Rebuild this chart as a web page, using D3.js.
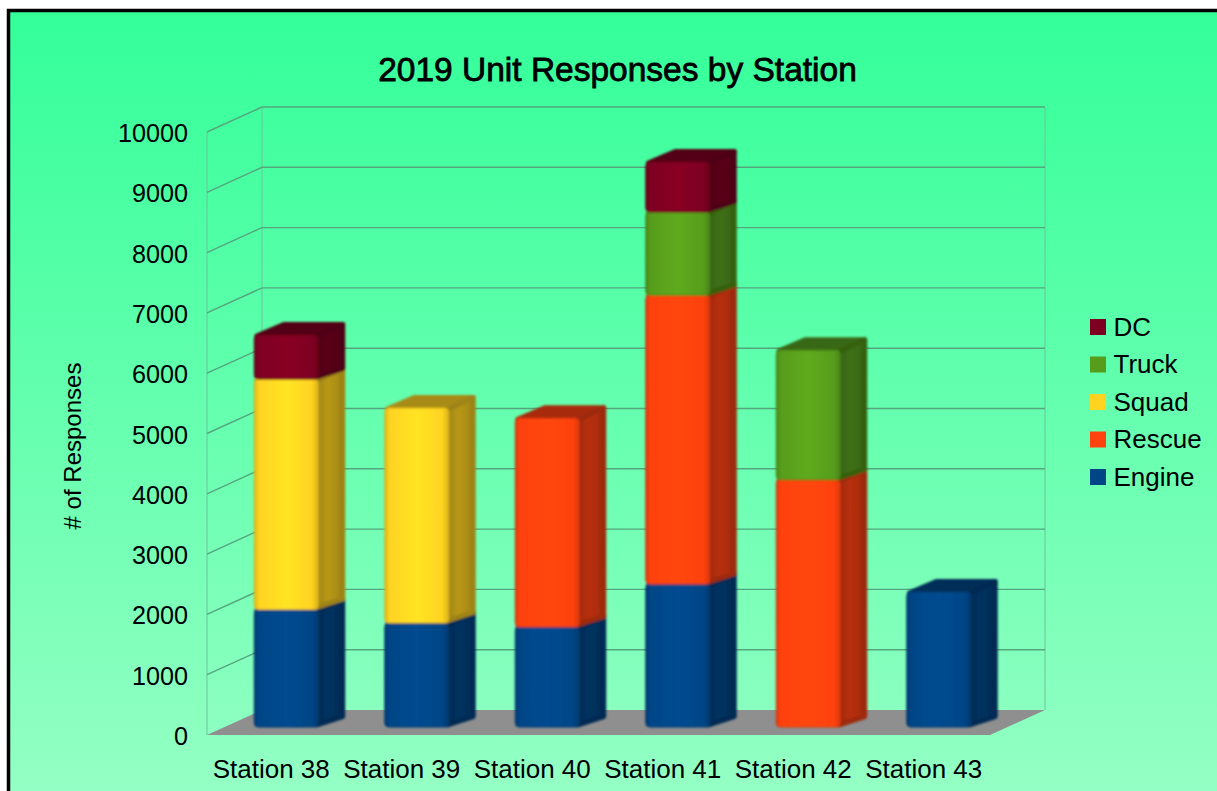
<!DOCTYPE html>
<html><head><meta charset="utf-8">
<script src="https://cdnjs.cloudflare.com/ajax/libs/d3/7.8.5/d3.min.js"></script>
<style>html,body{margin:0;padding:0;background:#fff;overflow:hidden}svg{display:block}text{font-family:"Liberation Sans",Arial,sans-serif;fill:#000}</style>
</head><body><svg id="c" width="1217" height="791"></svg>
<script>
const categories = ["Station 38","Station 39","Station 40","Station 41","Station 42","Station 43"];
const seriesNames = ["Engine","Rescue","Squad","Truck","DC"];
const engine = [1950,1725,1660,2370,0,2240];
const rescue = [0,0,3460,4790,4100,0];
const squad  = [3820,3565,0,0,0,0];
const truck  = [0,0,0,1380,2150,0];
const dc     = [730,0,0,830,0,0];
const seriesValues = [engine,rescue,squad,truck,dc];
const colors = ["#004586","#ff420e","#ffd320","#579d1c","#7e0021"];
const yTicks = [0,1000,2000,3000,4000,5000,6000,7000,8000,9000,10000];
const title = "2019 Unit Responses by Station";
const yTitle = "# of Responses";

const svg = d3.select("#c");
const defs = svg.append("defs");
const bg = defs.append("linearGradient").attr("id","bg").attr("x1",0).attr("y1",0).attr("x2",0).attr("y2",1);
bg.append("stop").attr("offset",0).attr("stop-color","#33ff99");
bg.append("stop").attr("offset",1).attr("stop-color","#99ffc6");
const soft = defs.append("filter").attr("id","soft").attr("x","-5%").attr("y","-5%").attr("width","110%").attr("height","110%");
soft.append("feGaussianBlur").attr("stdDeviation",0.9);

const shade = (c,k)=>{const r=d3.rgb(c);return d3.rgb(r.r*k,r.g*k,r.b*k).formatHex();};
colors.forEach((c,i)=>{
  const f = defs.append("linearGradient").attr("id","front"+i);
  [[0,shade(c,0.85)],[0.07,shade(c,1.0)],[0.5,shade(c,1.08)],[0.9,shade(c,1.0)],[1,shade(c,0.85)]].forEach(s=>f.append("stop").attr("offset",s[0]).attr("stop-color",s[1]));
  const g = defs.append("linearGradient").attr("id","side"+i);
  [[0,shade(c,0.62)],[0.45,shade(c,0.72)],[0.85,shade(c,0.66)],[1,shade(c,0.55)]].forEach(s=>g.append("stop").attr("offset",s[0]).attr("stop-color",s[1]));
});

svg.append("rect").attr("x",8.5).attr("y",10.5).attr("width",1240).attr("height",820)
   .attr("fill","url(#bg)").attr("stroke","#000").attr("stroke-width",3.5);

// 3D frame
const depthX = 55, depthY = 25;
const x = d3.scaleBand().domain(categories).range([207,990]).paddingInner(0.51).paddingOuter(0.255);
const y = d3.scaleLinear().domain([0,10000]).range([735,132]);
const right = x.range()[1], left = x.range()[0];

svg.append("path")
  .attr("d",`M${left},${y(0)}L${left+depthX},${y(0)-depthY}L${right+depthX},${y(0)-depthY}L${right},${y(0)}Z`)
  .attr("fill","#8f8f8f");
const gridCol = "#55a57e";
const wall = svg.append("g").attr("fill","none");
[left,left+depthX,right+depthX].forEach((vx,i)=>{
  const off = i===0?0:depthY;
  wall.append("line").attr("x1",vx).attr("x2",vx).attr("y1",y(0)-off).attr("y2",y(10000)-off)
     .attr("stroke","#6cc39a").attr("stroke-width",1);
});
yTicks.forEach(t=>{
  wall.append("path").attr("d",`M${left},${y(t)}L${left+depthX},${y(t)-depthY}L${right+depthX},${y(t)-depthY}`)
     .attr("stroke",gridCol).attr("stroke-width",t===0?0:1.4);
});

// Bars
const dx = 27, dy = 13, shiftX = 14, shiftY = 8, inset = 2.5;
const barG = svg.append("g").attr("filter","url(#soft)");
categories.forEach((cat,ci)=>{
  let acc = 0;
  seriesValues.forEach((vals,si)=>{
    const v = vals[ci];
    if(!v) return;
    const x0 = x(cat)+shiftX, w = x.bandwidth();
    const yb = y(acc)-shiftY, yt = y(acc+v)-shiftY;
    acc += v;
    const c = colors[si];
    const seg = barG.append("g").attr("stroke-linejoin","round").attr("stroke-width",inset*2);
    // top
    seg.append("path").attr("d",`M${x0+inset},${yt+1}L${x0+dx+inset},${yt-dy+inset}L${x0+w+dx-inset},${yt-dy+inset}L${x0+w},${yt+1}Z`)
       .attr("fill",shade(c,0.66)).attr("stroke",shade(c,0.66));
    // side
    seg.append("path").attr("d",`M${x0+w-2},${yb-2}L${x0+w+dx-inset},${yb-dy+inset}L${x0+w+dx-inset},${yt-dy+inset}L${x0+w-2},${yt+2}Z`)
       .attr("fill",`url(#side${si})`).attr("stroke",shade(c,0.62));
    // front
    seg.append("rect").attr("x",x0).attr("y",yt).attr("width",w).attr("height",yb-yt).attr("rx",4)
       .attr("fill",`url(#front${si})`).attr("stroke",shade(c,0.85)).attr("stroke-width",1);
  });
});

// Text
svg.append("text").attr("x",617.5).attr("y",81).attr("text-anchor","middle")
   .attr("font-size",33.5).style("stroke","#000").style("stroke-width",0.8).text(title);
svg.append("g").selectAll("text").data(yTicks).join("text")
   .attr("x",188).attr("y",d=>y(d)+10).attr("text-anchor","end").attr("font-size",25.2).text(d=>d);
svg.append("g").selectAll("text").data(categories).join("text")
   .attr("x",d=>x(d)+x.bandwidth()/2-1).attr("y",778).attr("text-anchor","middle").attr("font-size",26).text(d=>d);
svg.append("text").attr("transform","translate(81,446) rotate(-90)").attr("text-anchor","middle")
   .attr("font-size",24).text(yTitle);

const legendYs = d3.scalePoint().domain(seriesNames.slice().reverse()).range([327,477]);
const leg = svg.append("g").selectAll("g").data(seriesNames).join("g").attr("transform",d=>`translate(1090,${legendYs(d)})`);
leg.append("rect").attr("x",0).attr("y",-8).attr("width",16).attr("height",16).attr("fill",(d,i)=>colors[i]);
leg.append("text").attr("x",23.5).attr("y",8.5).attr("font-size",26).text(d=>d);
</script></body></html>
